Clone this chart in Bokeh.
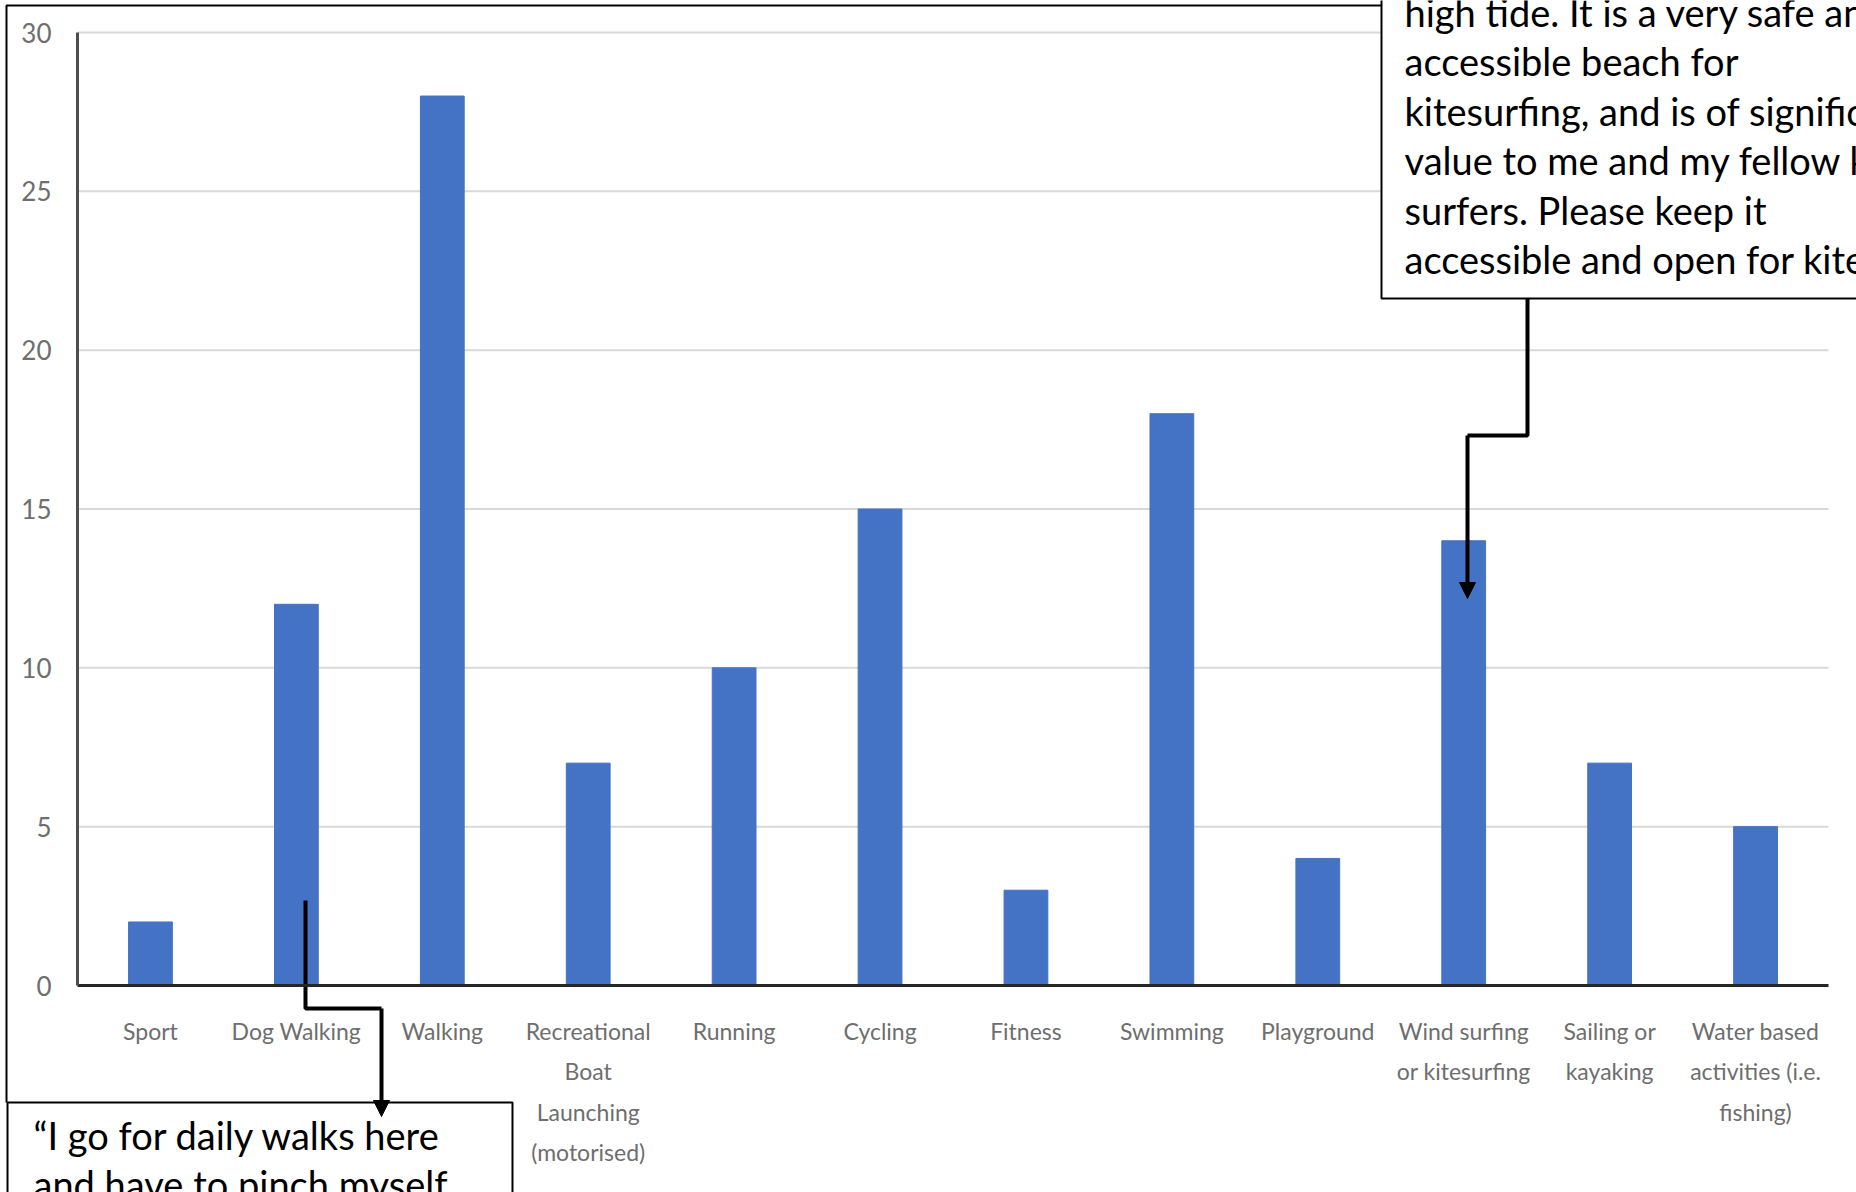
from bokeh.plotting import figure
from bokeh.models import Range1d, FixedTicker, Arrow, NormalHead
from bokeh.core.properties import value
from bokeh.embed import file_html
from bokeh.resources import INLINE

# ---------------- data ----------------
categories = ["Sport", "Dog Walking", "Walking",
              "Recreational Boat Launching (motorised)", "Running", "Cycling",
              "Fitness", "Swimming", "Playground", "Wind surfing or kitesurfing",
              "Sailing or kayaking", "Water based activities (i.e. fishing)"]
tick_labels = ["Sport", "Dog Walking", "Walking",
               "Recreational\nBoat\nLaunching\n(motorised)", "Running", "Cycling",
               "Fitness", "Swimming", "Playground", "Wind surfing\nor kitesurfing",
               "Sailing or\nkayaking", "Water based\nactivities (i.e.\nfishing)"]
counts = [2, 12, 28, 7, 10, 15, 3, 18, 4, 14, 7, 5]
y_ticks = [0, 5, 10, 15, 20, 25, 30]

quote_kite_lines = ["high tide. It is a very safe an",
                    "accessible beach for",
                    "kitesurfing, and is of signific",
                    "value to me and my fellow k",
                    "surfers. Please keep it",
                    "accessible and open for kite"]
quote_walk_lines = ["\u201cI go for daily walks here",
                    "and have to pinch myself"]

# ---------------- layout (reference-pixel helpers) ----------------
W, H = 1856, 1192
OFF = 0
X_LEFT_PX, X_RIGHT_PX = 77.0, 1828.0
Y0_PX, Y30_PX = 985.0, 32.0
n = len(categories)
PXX = (X_RIGHT_PX - X_LEFT_PX) / n
PXY = (Y0_PX - Y30_PX) / 30.0


def dx(px):
    return 0.5 + (px - X_LEFT_PX) / PXX


def dy(py):
    return (Y0_PX - py) / PXY


xs = [i + 1 for i in range(n)]

p = figure(width=W, height=H, output_backend="svg", toolbar_location=None,
           x_range=Range1d(dx(OFF), dx(OFF + W)),
           y_range=Range1d(dy(OFF + H), dy(OFF)),
           min_border=0, min_border_left=0, min_border_right=0,
           min_border_top=0, min_border_bottom=0)
p.background_fill_color = "white"
p.border_fill_color = "white"
p.outline_line_color = None
p.xgrid.visible = False
p.ygrid.visible = False

# gridlines
for t in y_ticks[1:]:
    p.segment(x0=[0.5], x1=[n + 0.5], y0=[t], y1=[t], line_color="#d9d9d9", line_width=2)

# bars
p.vbar(x=xs, top=counts, width=0.30, fill_color="#4472C4", line_color="#4472C4")

# outer frame
p.line(x=[dx(6), dx(6), dx(1381)], y=[dy(1102), dy(5), dy(5)],
       line_color="black", line_width=2)

# callout boxes
p.quad(left=[dx(1381)], right=[dx(1950)], top=[dy(-30)], bottom=[dy(298)],
       fill_color="white", line_color="black", line_width=2)
p.quad(left=[dx(7)], right=[dx(512)], top=[dy(1102)], bottom=[dy(1260)],
       fill_color="white", line_color="black", line_width=2)

# callout texts
base1 = 11
p.text(x=[dx(1404)] * len(quote_kite_lines),
       y=[dy(base1 + 49.5 * i) for i in range(len(quote_kite_lines))],
       text=quote_kite_lines, text_font=value("Lato"), text_font_size="38px",
       text_baseline="alphabetic", text_align="left", text_color="black")
base2 = 1134
p.text(x=[dx(33)] * len(quote_walk_lines),
       y=[dy(base2 + 49.5 * i) for i in range(len(quote_walk_lines))],
       text=quote_walk_lines, text_font=value("Lato"), text_font_size="38px",
       text_baseline="alphabetic", text_align="left", text_color="black")

# connector arrows
p.line(x=[dx(305), dx(305), dx(381)], y=[dy(900), dy(1008), dy(1008)],
       line_color="black", line_width=4)
p.add_layout(Arrow(end=NormalHead(size=16, fill_color="black", line_color="black"),
                   x_start=dx(381), y_start=dy(1008), x_end=dx(381), y_end=dy(1116),
                   line_color="black", line_width=4))
p.line(x=[dx(1527), dx(1527), dx(1467)], y=[dy(298), dy(435), dy(435)],
       line_color="black", line_width=4)
p.add_layout(Arrow(end=NormalHead(size=16, fill_color="black", line_color="black"),
                   x_start=dx(1467), y_start=dy(435), x_end=dx(1467), y_end=dy(598),
                   line_color="black", line_width=4))

# axes
xa = p.xaxis[0]
xa.fixed_location = 0
xa.bounds = (0.5, n + 0.5)
xa.ticker = FixedTicker(ticks=xs)
xa.major_label_overrides = {x: lbl for x, lbl in zip(xs, tick_labels)}
xa.axis_line_color = "#262626"
xa.axis_line_width = 3
xa.major_tick_line_color = None
xa.minor_tick_line_color = None
xa.major_label_text_font = "Lato"
xa.major_label_text_font_size = "23px"
xa.major_label_text_color = "#6e6e6e"
xa.major_label_text_line_height = 1.45
xa.major_label_standoff = 25

ya = p.yaxis[0]
ya.fixed_location = 0.5
ya.bounds = (0, 30)
ya.ticker = FixedTicker(ticks=y_ticks)
ya.axis_line_color = "#4d4d4d"
ya.axis_line_width = 3
ya.major_tick_line_color = None
ya.minor_tick_line_color = None
ya.major_label_text_font = "Lato"
ya.major_label_text_font_size = "26px"
ya.major_label_text_color = "#6e6e6e"
ya.major_label_standoff = 20

open("out.html", "w").write(file_html(p, INLINE))
